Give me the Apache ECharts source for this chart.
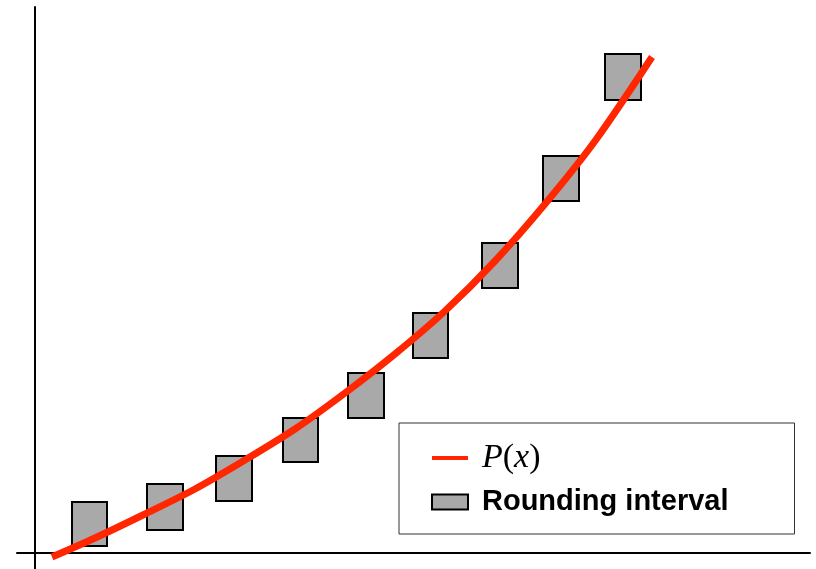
<!DOCTYPE html>
<html>
<head>
<meta charset="utf-8">
<script src="https://cdn.jsdelivr.net/npm/echarts@6/dist/echarts.min.js"></script>
<style>
    html, body { margin: 0; padding: 0; background: #fff; }
    .box { width: 816px; height: 569px; }
</style>
</head>
<body>
<div class="box"></div>
<script>
// 曲线 P(x) 上的点 (x, y)
var curveX = [17, 60, 110, 160, 210, 260, 310, 360, 410, 460, 510, 560, 617]
var curveY = [-4, 15, 39, 64, 93, 124, 160, 199, 242, 292, 349, 412, 496]

// 取整区间: 左 右 下 上
var boxLeft = [37, 112, 181, 248, 313, 378, 447, 508, 570]
var boxRight = [72, 148, 217, 283, 349, 413, 483, 544, 606]
var boxLow = [7, 23, 52, 91, 135, 195, 265, 352, 453]
var boxHigh = [51, 69, 97, 135, 180, 240, 310, 397, 499]

var seriesNames = ['P(x)', 'Rounding interval']

;(function () {
    var myChart = echarts.init(document.getElementsByClassName('box')[0])

    var curveData = []
    for (var i = 0; i < curveX.length; i++) {
        curveData.push([curveX[i], curveY[i]])
    }
    var boxData = []
    for (var k = 0; k < boxLeft.length; k++) {
        boxData.push([boxLeft[k], boxRight[k], boxLow[k], boxHigh[k]])
    }

    var option = {
        animation: false,
        grid: {
            left: 17,
            right: 6,
            top: 7,
            bottom: 0
        },
        xAxis: {
            type: 'value',
            min: -18,
            max: 775,
            axisLine: { onZero: true, lineStyle: { color: '#000', width: 2 } },
            axisTick: { show: false },
            axisLabel: { show: false },
            splitLine: { show: false }
        },
        yAxis: {
            type: 'value',
            min: -16,
            max: 546,
            axisLine: { show: true, onZero: true, lineStyle: { color: '#000', width: 2 } },
            axisTick: { show: false },
            axisLabel: { show: false },
            splitLine: { show: false }
        },
        legend: {
            orient: 'vertical',
            left: 399,
            top: 423,
            selectedMode: false,
            backgroundColor: '#fff',
            borderColor: '#333',
            borderWidth: 1,
            padding: [18, 66, 17, 32],
            itemGap: 12,
            itemWidth: 36,
            itemHeight: 15,
            textStyle: {
                color: '#000',
                fontFamily: 'Liberation Sans',
                fontSize: 29,
                fontWeight: 'bold',
                lineHeight: 30,
                padding: [0, 0, 0, 9],
                rich: {
                    i: { fontFamily: 'Liberation Serif', fontStyle: 'italic', fontWeight: 'normal', fontSize: 34, color: '#000' },
                    n: { fontFamily: 'Liberation Serif', fontWeight: 'normal', fontSize: 34, color: '#000' }
                }
            },
            formatter: function (name) {
                if (name === 'P(x)') {
                    return '{i|P}{n|(}{i|x}{n|)}'
                }
                return name
            },
            data: [
                {
                    name: seriesNames[0],
                    icon: 'path://M0,0L36,0L36,4L0,4Z',
                    itemStyle: { color: '#ff2600', borderWidth: 0 }
                },
                {
                    name: seriesNames[1],
                    icon: 'rect',
                    itemStyle: { color: '#a9a9a9', borderColor: '#000', borderWidth: 2 }
                }
            ]
        },
        series: [
            {
                name: seriesNames[1],
                type: 'custom',
                z: 2,
                encode: { x: [0, 1], y: [2, 3] },
                itemStyle: { color: '#a9a9a9', borderColor: '#000', borderWidth: 2 },
                renderItem: function (params, api) {
                    var p0 = api.coord([api.value(0), api.value(3)])
                    var p1 = api.coord([api.value(1), api.value(2)])
                    return {
                        type: 'rect',
                        shape: { x: p0[0], y: p0[1], width: p1[0] - p0[0], height: p1[1] - p0[1] },
                        style: { fill: '#a9a9a9', stroke: '#000', lineWidth: 2 }
                    }
                },
                data: boxData
            },
            {
                name: seriesNames[0],
                type: 'line',
                z: 5,
                smooth: 0.3,
                symbol: 'none',
                color: '#ff2600',
                lineStyle: { color: '#ff2600', width: 7 },
                data: curveData
            }
        ]
    }

    myChart.setOption(option)
}());
</script>
</body>
</html>
